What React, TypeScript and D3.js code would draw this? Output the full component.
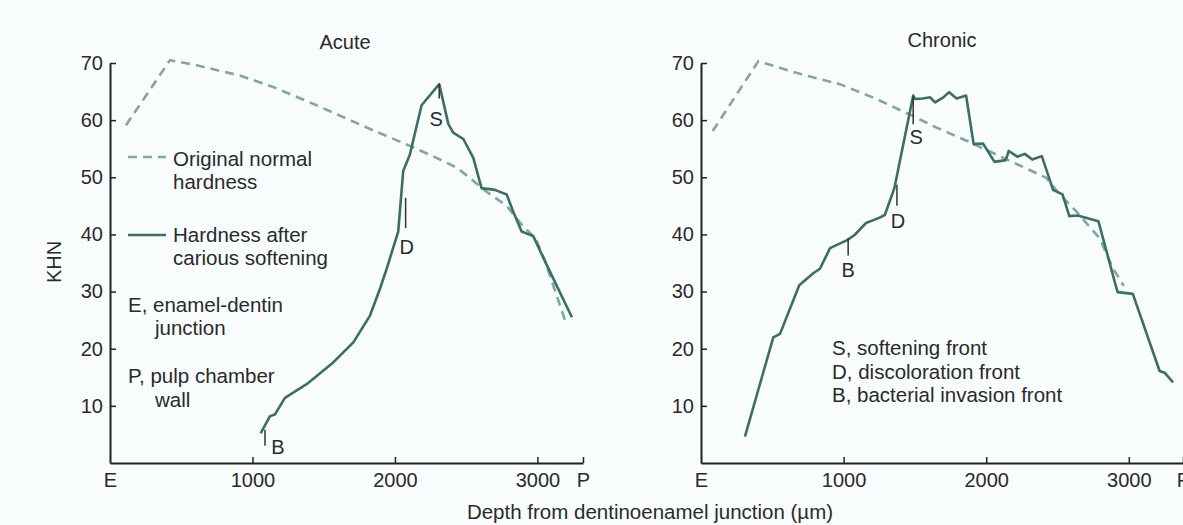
import React, { useEffect, useRef } from "react";
import * as d3 from "d3";

// depth (µm) / KHN pairs
const acuteNormalX = [112, 421, 608, 912, 1146, 1450, 1848, 2105, 2292, 2433, 2526, 2620, 2784, 2900, 2988, 3054, 3203];
const acuteNormalY = [59.1, 70.5, 69.6, 67.8, 65.8, 62.6, 58.2, 55.5, 53.4, 51.7, 49.9, 47.9, 45, 41.4, 39.3, 35.3, 24.3];

const acuteSoftX = [1057, 1123, 1158, 1228, 1380, 1567, 1708, 1825, 1895, 1942, 2023, 2058, 2105, 2187, 2311, 2375, 2409, 2480, 2550, 2608, 2702, 2784, 2830, 2889, 2971, 3055, 3242];
const acuteSoftY = [5.2, 8.2, 8.5, 11.4, 13.8, 17.6, 21.1, 25.8, 30.5, 34, 40.5, 51.1, 54, 62.6, 66.3, 59.3, 57.8, 56.7, 53.4, 48.1, 47.8, 47, 44, 40.5, 39.7, 35.2, 25.5];

const chronicNormalX = [82, 402, 694, 974, 1231, 1453, 1652, 1862, 2095, 2422, 2516, 2633, 2796, 2890, 2965];
const chronicNormalY = [58.1, 70.3, 68.1, 66.3, 63.7, 61.1, 58.7, 56.4, 53.7, 49.9, 47, 44, 39.3, 34, 31];

const chronicSoftX = [308, 507, 554, 689, 787, 834, 905, 1025, 1077, 1157, 1249, 1289, 1356, 1488, 1501, 1554, 1607, 1641, 1700, 1740, 1793, 1859, 1912, 1978, 2058, 2137, 2158, 2218, 2270, 2323, 2390, 2469, 2535, 2583, 2641, 2787, 2911, 2922, 3028, 3216, 3251, 3310];
const chronicSoftY = [4.6, 22, 22.6, 31.1, 33.2, 34, 37.6, 39, 39.9, 42, 42.9, 43.4, 48.1, 64.3, 63.7, 63.8, 64, 63.1, 64, 64.9, 63.8, 64.3, 55.8, 55.9, 52.7, 53, 54.6, 53.6, 54.1, 53.1, 53.7, 47.8, 47, 43.2, 43.3, 42.3, 30.8, 29.9, 29.6, 16.1, 15.8, 14.1];

// front markers: label, depth, top KHN, bottom KHN
const frontLabels = ["S", "D", "B"];
const acuteFrontX = [2311, 2075, 1088];
const acuteFrontTop = [66.3, 46.4, 5.8];
const acuteFrontBottom = [63.8, 41.1, 3.0];
const chronicFrontX = [1488, 1374, 1032];
const chronicFrontTop = [64.3, 48.7, 39.3];
const chronicFrontBottom = [59.3, 45.0, 36.3];

const yTicks = [10, 20, 30, 40, 50, 60, 70];
const xTicks = [0, 1000, 2000, 3000];
const xTickLabels = ["E", "1000", "2000", "3000"];
const endLabel = "P";

const titles = ["Acute", "Chronic"];
const legendNormal = ["Original normal", "hardness"];
const legendSoft = ["Hardness after", "carious softening"];
const noteE = ["E, enamel-dentin", "junction"];
const noteP = ["P, pulp chamber", "wall"];
const frontNotes = ["S, softening front", "D, discoloration front", "B, bacterial invasion front"];
const xTitle = "Depth from dentinoenamel junction (\u00b5m)";
const yTitle = "KHN";

const W = 1183, H = 525;
const FONT = "'Liberation Sans', Arial, Helvetica, sans-serif";
const TEXT = "#2a2a2a";
const SOLID = "#3b6f64";
const DASH = "#7fa8a2";

const App: React.FC = () => {
  const ref = useRef<SVGSVGElement>(null);

  useEffect(() => {
    document.body.style.margin = "0";
    const svg = d3.select(ref.current);
    svg.selectAll("*").remove();

    svg.append("rect").attr("width", W).attr("height", H).attr("fill", "#f8fcfc");

    const y = d3.scaleLinear().domain([0, 70]).range([463, 63]);

    const panels = [
      {
        title: titles[0], titleX: 345, titleY: 49,
        x: d3.scaleLinear().domain([0, 3320]).range([110, 583]),
        end: 3320,
        normal: acuteNormalX.map((v, i) => [v, acuteNormalY[i]]),
        soft: acuteSoftX.map((v, i) => [v, acuteSoftY[i]]),
        fx: acuteFrontX, ft: acuteFrontTop, fb: acuteFrontBottom,
        // label offsets (px) relative to marker bottom
        lab: [[-3, 28], [1, 26], [13, 8]],
      },
      {
        title: titles[1], titleX: 942, titleY: 47,
        x: d3.scaleLinear().domain([0, 3380]).range([701, 1183]),
        end: 3380,
        normal: chronicNormalX.map((v, i) => [v, chronicNormalY[i]]),
        soft: chronicSoftX.map((v, i) => [v, chronicSoftY[i]]),
        fx: chronicFrontX, ft: chronicFrontTop, fb: chronicFrontBottom,
        lab: [[3, 20], [1, 22], [0, 21]],
      },
    ];

    panels.forEach(p => {
      const g = svg.append("g");
      const x = p.x;

      g.append("text")
        .attr("x", p.titleX).attr("y", p.titleY)
        .attr("text-anchor", "middle")
        .attr("font-family", FONT).attr("font-size", 20).attr("fill", TEXT)
        .text(p.title);

      // y axis
      const ya = g.append("g")
        .attr("transform", `translate(${x(0)},0)`)
        .call(d3.axisLeft(y).tickValues(yTicks).tickSize(-6).tickSizeOuter(0).tickPadding(7));
      // x axis
      const xa = g.append("g")
        .attr("transform", `translate(0,${y(0)})`)
        .call(d3.axisBottom(x)
          .tickValues([...xTicks, p.end])
          .tickFormat((d, i) => (i < xTickLabels.length ? xTickLabels[i] : endLabel))
          .tickSize(-6).tickSizeOuter(0).tickPadding(10));
      [ya, xa].forEach(a => {
        a.select(".domain").attr("stroke", "#222").attr("stroke-width", 2);
        a.selectAll(".tick line").attr("stroke", "#222").attr("stroke-width", 1.5);
        a.selectAll(".tick text")
          .attr("font-family", FONT).attr("font-size", 20).attr("fill", TEXT);
      });
      xa.selectAll(".tick").filter((d: any) => d === 0).select("line").remove();

      const line = d3.line<number[]>().x(d => x(d[0])).y(d => y(d[1]));

      g.append("path").datum(p.normal)
        .attr("d", line).attr("fill", "none")
        .attr("stroke", DASH).attr("stroke-width", 2.6)
        .attr("stroke-dasharray", "9,6");

      g.append("path").datum(p.soft)
        .attr("d", line).attr("fill", "none")
        .attr("stroke", SOLID).attr("stroke-width", 2.6)
        .attr("stroke-linejoin", "round");

      frontLabels.forEach((lbl, i) => {
        const fx = x(p.fx[i]);
        g.append("line")
          .attr("x1", fx).attr("x2", fx)
          .attr("y1", y(p.ft[i])).attr("y2", y(p.fb[i]))
          .attr("stroke", "#333").attr("stroke-width", 1.5);
        g.append("text")
          .attr("x", fx + p.lab[i][0]).attr("y", y(p.fb[i]) + p.lab[i][1])
          .attr("text-anchor", "middle")
          .attr("font-family", FONT).attr("font-size", 20).attr("fill", TEXT)
          .text(lbl);
      });
    });

    const addLines = (lines: string[], xs: number[], y0: number, gap: number) => {
      lines.forEach((t, i) => {
        svg.append("text")
          .attr("x", xs[i]).attr("y", y0 + i * gap)
          .attr("font-family", FONT).attr("font-size", 20.5).attr("fill", TEXT)
          .text(t);
      });
    };

    // left legend
    svg.append("line").attr("x1", 128).attr("x2", 166).attr("y1", 157).attr("y2", 157)
      .attr("stroke", DASH).attr("stroke-width", 2.6).attr("stroke-dasharray", "9,6");
    addLines(legendNormal, [173, 173], 166, 23);
    svg.append("line").attr("x1", 128).attr("x2", 166).attr("y1", 235).attr("y2", 235)
      .attr("stroke", SOLID).attr("stroke-width", 2.6);
    addLines(legendSoft, [173, 173], 242, 23);
    addLines(noteE, [128, 155], 312, 23);
    addLines(noteP, [128, 155], 383, 24);

    // right notes
    addLines(frontNotes, [832, 832, 832], 355, 23.5);

    // axis titles
    svg.append("text")
      .attr("transform", "translate(61,262) rotate(-90)")
      .attr("text-anchor", "middle")
      .attr("font-family", FONT).attr("font-size", 20).attr("fill", TEXT)
      .text(yTitle);
    svg.append("text")
      .attr("x", 650).attr("y", 519)
      .attr("text-anchor", "middle")
      .attr("font-family", FONT).attr("font-size", 20.5).attr("fill", TEXT)
      .text(xTitle);
  }, []);

  return <svg ref={ref} width={W} height={H} style={{ display: "block" }} />;
};

export default App;
